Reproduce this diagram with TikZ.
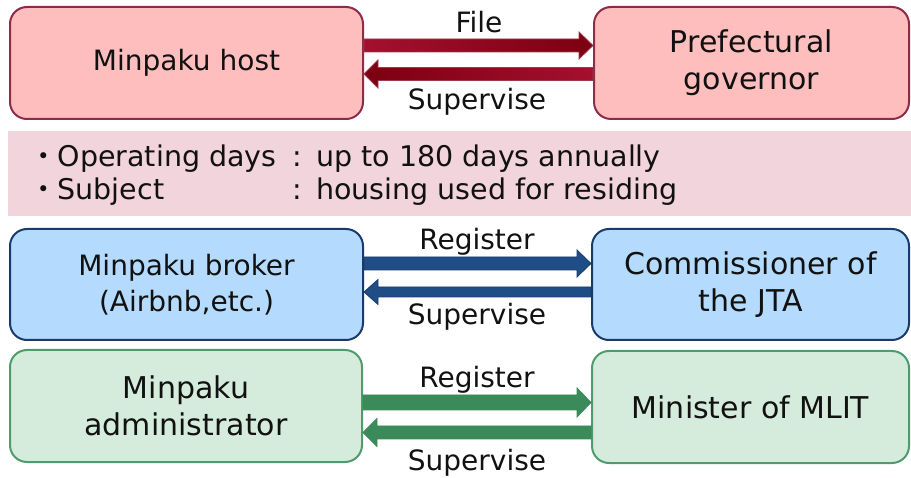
\documentclass[tikz,border=0pt]{standalone}
\usepackage{fontspec}
\setmainfont{DejaVu Sans}
\newfontfamily\cjk{Noto Sans CJK JP}
\usetikzlibrary{calc}

\definecolor{redfill}{HTML}{FFBEBE}
\definecolor{redline}{HTML}{8E2B47}
\definecolor{redarrA}{HTML}{A3102E}
\definecolor{redarrB}{HTML}{7C0010}
\definecolor{redarrline}{HTML}{9A3A50}
\definecolor{bandfill}{HTML}{F2D4DC}
\definecolor{bluefill}{HTML}{B4DBFD}
\definecolor{blueline}{HTML}{1B3A6C}
\definecolor{bluearr}{HTML}{1F4E86}
\definecolor{greenfill}{HTML}{D5ECDC}
\definecolor{greenline}{HTML}{4E9B6B}
\definecolor{greenarr}{HTML}{3B8A5A}
\definecolor{ink}{HTML}{111111}

% block arrow pointing right, from the east side of #2 to the west side of #3
\newcommand\blkRight[6]{%
  \path[#1] let \p1=(#2.east), \p2=(#3.west), \p3=(0,#4) in
    (\x1,{\y3+#5pt}) -- ({\x2-14pt},{\y3+#5pt}) -- ({\x2-14pt},{\y3+#6pt})
    -- (\x2,\y3) -- ({\x2-14pt},{\y3-#6pt}) -- ({\x2-14pt},{\y3-#5pt})
    -- (\x1,{\y3-#5pt}) -- cycle;}
% block arrow pointing left, from the west side of #3 to the east side of #2
\newcommand\blkLeft[6]{%
  \path[#1] let \p1=(#2.east), \p2=(#3.west), \p3=(0,#4) in
    (\x2,{\y3+#5pt}) -- ({\x1+14pt},{\y3+#5pt}) -- ({\x1+14pt},{\y3+#6pt})
    -- (\x1,\y3) -- ({\x1+14pt},{\y3-#6pt}) -- ({\x1+14pt},{\y3-#5pt})
    -- (\x2,{\y3-#5pt}) -- cycle;}

\tikzset{
  box/.style={rounded corners=17pt, line width=2pt, align=center,
    font=\fontsize{28}{36}\selectfont, text=ink, inner sep=0pt},
  bigtext/.style={font=\fontsize{30}{37}\selectfont},
  redbox/.style={box, fill=redfill, draw=redline},
  bluebox/.style={box, fill=bluefill, draw=blueline},
  greenbox/.style={box, fill=greenfill, draw=greenline},
  lbl/.style={font=\fontsize{28}{34}\selectfont, text=ink, inner sep=0pt, anchor=base},
  bandtxt/.style={font=\fontsize{28.5}{34}\selectfont, text=ink, inner sep=0pt, anchor=base west},
  redR/.style={left color=redarrA, right color=redarrB, draw=redarrline, line width=0.8pt},
  redL/.style={left color=redarrB, right color=redarrA, draw=redarrline, line width=0.8pt},
  blueA/.style={fill=bluearr, draw=blueline, line width=0.8pt},
  greenA/.style={fill=greenarr, draw=greenarr, line width=0.8pt},
}

\begin{document}
\begin{tikzpicture}[x=1pt,y=-1pt]
\useasboundingbox (0,0) rectangle (911,478);

% row 1
\node[redbox, minimum width=353pt, minimum height=112pt] (host) at (186.5,63) {Minpaku host};
\node[redbox, bigtext, minimum width=315pt, minimum height=112pt] (gov) at (751.5,63) {Prefectural\\governor};
\blkRight{redR}{host}{gov}{45.5}{6.5}{13.5}
\blkLeft{redL}{host}{gov}{74}{6.5}{14}
\node[lbl] (file) at (479,33) {File};
\node[lbl] (sup1) at (477,110) {Supervise};

% conditions band
\node[fill=bandfill, minimum width=903pt, minimum height=85pt, inner sep=0pt] (band) at (459.5,173.5) {};
\node[bandtxt] (c1a) at (29,167) {{\cjk ・}Operating days};
\node[bandtxt] (c1b) at (292,167) {:};
\node[bandtxt] (c1c) at (316,167) {up to 180 days annually};
\node[bandtxt] (c2a) at (29,200) {{\cjk ・}Subject};
\node[bandtxt] (c2b) at (292,200) {:};
\node[bandtxt] (c2c) at (316,200) {housing used for residing};

% row 2
\node[bluebox, minimum width=353pt, minimum height=111pt] (broker) at (186.5,284.5) {Minpaku broker\\(Airbnb,etc.)};
\node[bluebox, bigtext, minimum width=317pt, minimum height=111pt] (jta) at (750.5,284.5) {Commissioner of\\the JTA};
\blkRight{blueA}{broker}{jta}{263.5}{6.5}{13.5}
\blkLeft{blueA}{broker}{jta}{292}{5}{12.5}
\node[lbl] (reg2) at (477,250) {Register};
\node[lbl] (sup2) at (477,325) {Supervise};

% row 3
\node[greenbox, bigtext, minimum width=352pt, minimum height=112pt] (admin) at (186,406) {Minpaku\\administrator};
\node[greenbox, bigtext, minimum width=317pt, minimum height=112pt] (mlit) at (750.5,407) {Minister of MLIT};
\blkRight{greenA}{admin}{mlit}{402.5}{7.5}{14.5}
\blkLeft{greenA}{admin}{mlit}{432.5}{6.5}{14}
\node[lbl] (reg3) at (477,388) {Register};
\node[lbl] (sup3) at (477,470) {Supervise};
\end{tikzpicture}
\end{document}
